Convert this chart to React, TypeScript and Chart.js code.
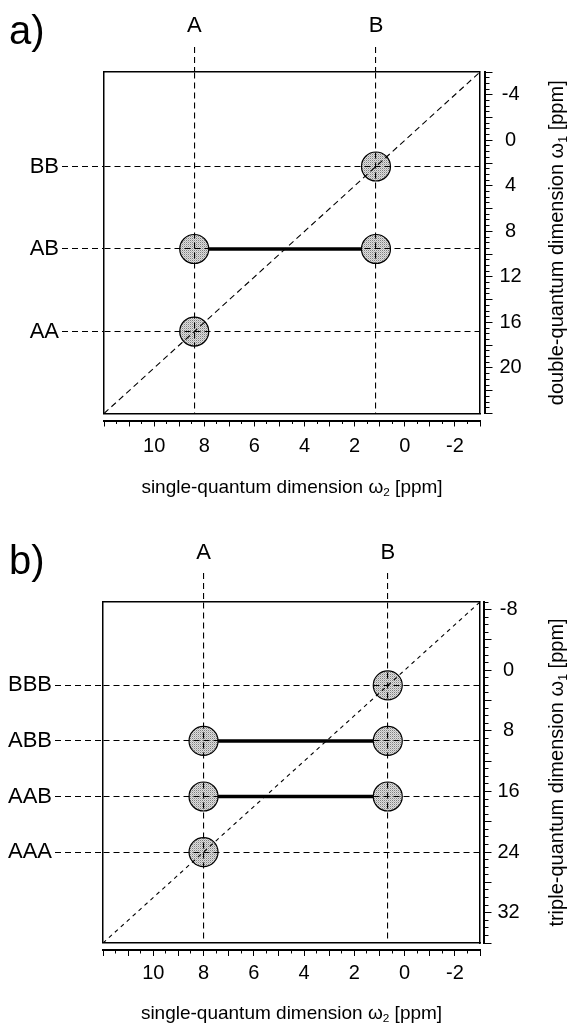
import React, { useEffect, useRef } from 'react';
import { Chart, registerables } from 'chart.js';

Chart.register(...registerables);

// ---------------- Panel a: double-quantum ----------------
const A_SQ_NAMES = ['A', 'B'];
const A_SQ_SHIFTS = [8.4, 1.15];
const A_MQ_NAMES = ['BB', 'AB', 'AA'];
const A_MQ_SHIFTS = [2.3, 9.55, 16.8];
const A_PEAKS_X = [1.15, 8.4, 1.15, 8.4];
const A_PEAKS_Y = [2.3, 9.55, 9.55, 16.8];
const A_LINK_X = [8.4, 1.15];
const A_LINK_Y = [9.55, 9.55];
const A_DIAG_X = [12, -3];
const A_DIAG_Y = [24, -6];
const A_X_TICK_LABELS = [10, 8, 6, 4, 2, 0, -2];
const A_Y_TICK_LABELS = [-4, 0, 4, 8, 12, 16, 20];

// ---------------- Panel b: triple-quantum ----------------
const B_SQ_NAMES = ['A', 'B'];
const B_SQ_SHIFTS = [8.0, 0.67];
const B_MQ_NAMES = ['BBB', 'ABB', 'AAB', 'AAA'];
const B_MQ_SHIFTS = [2.0, 9.33, 16.67, 24.0];
const B_PEAKS_X = [0.67, 8.0, 0.67, 8.0, 0.67, 8.0];
const B_PEAKS_Y = [2.0, 9.33, 9.33, 16.67, 16.67, 24.0];
const B_LINK1_X = [8.0, 0.67];
const B_LINK1_Y = [9.33, 9.33];
const B_LINK2_X = [8.0, 0.67];
const B_LINK2_Y = [16.67, 16.67];
const B_DIAG_X = [12, -3];
const B_DIAG_Y = [36, -9];
const B_X_TICK_LABELS = [10, 8, 6, 4, 2, 0, -2];
const B_Y_TICK_LABELS = [-8, 0, 8, 16, 24, 32];

const FAM = '"Liberation Sans", Arial, Helvetica, sans-serif';

type Part = { text: string; sub?: boolean };

const PANEL_A = {
  letter: 'a)',
  sqNames: A_SQ_NAMES, sqShifts: A_SQ_SHIFTS,
  mqNames: A_MQ_NAMES, mqShifts: A_MQ_SHIFTS,
  peaksX: A_PEAKS_X, peaksY: A_PEAKS_Y,
  links: [[A_LINK_X, A_LINK_Y]],
  diagX: A_DIAG_X, diagY: A_DIAG_Y,
  xLabels: A_X_TICK_LABELS, yLabels: A_Y_TICK_LABELS,
  xMin: -3, xMax: 12, yMin: -6, yMax: 24,
  xMinor: 0.5, xMajor: 1, yMinor: 0.5, yMajor: 2,
  xTitle: [{ text: 'single-quantum dimension ω' }, { text: '2', sub: true }, { text: ' [ppm]' }] as Part[],
  yTitle: [{ text: 'double-quantum dimension ω' }, { text: '1', sub: true }, { text: ' [ppm]' }] as Part[],
  g: {
    h: 512, left: 104, top: 72, rightSp: 5, rightAxis: 86, botSp: 7, botAxis: 91.5,
    topTick: 25, topPad: 8, leftTick: 42, leftPad: 3, botPad: 10, rightPad: 10,
    letterY: 44, xTitleY: 486, yTitleX: 556, diagDash: [6, 4],
  },
};

const PANEL_B = {
  letter: 'b)',
  sqNames: B_SQ_NAMES, sqShifts: B_SQ_SHIFTS,
  mqNames: B_MQ_NAMES, mqShifts: B_MQ_SHIFTS,
  peaksX: B_PEAKS_X, peaksY: B_PEAKS_Y,
  links: [[B_LINK1_X, B_LINK1_Y], [B_LINK2_X, B_LINK2_Y]],
  diagX: B_DIAG_X, diagY: B_DIAG_Y,
  xLabels: B_X_TICK_LABELS, yLabels: B_Y_TICK_LABELS,
  xMin: -3, xMax: 12, yMin: -9, yMax: 36,
  xMinor: 0.5, xMajor: 1, yMinor: 1, yMajor: 4,
  xTitle: [{ text: 'single-quantum dimension ω' }, { text: '2', sub: true }, { text: ' [ppm]' }] as Part[],
  yTitle: [{ text: 'triple-quantum dimension ω' }, { text: '1', sub: true }, { text: ' [ppm]' }] as Part[],
  g: {
    h: 513, left: 103, top: 90, rightSp: 4, rightAxis: 87, botSp: 7, botAxis: 75,
    topTick: 29, topPad: 7, leftTick: 48, leftPad: 3, botPad: 8, rightPad: 9,
    letterY: 62, xTitleY: 500, yTitleX: 556, diagDash: [4, 4],
  },
};

function drawRich(ctx: CanvasRenderingContext2D, parts: Part[], size: number, cx: number, cy: number, rotate: boolean) {
  ctx.save();
  ctx.translate(cx, cy);
  if (rotate) ctx.rotate(-Math.PI / 2);
  const subSize = size * 0.62;
  const widths = parts.map((p) => {
    ctx.font = `${p.sub ? subSize : size}px ${FAM}`;
    return ctx.measureText(p.text).width;
  });
  const total = widths.reduce((a, b) => a + b, 0);
  let x = -total / 2;
  const base = size * 0.35;
  ctx.fillStyle = '#000';
  ctx.textBaseline = 'alphabetic';
  ctx.textAlign = 'left';
  parts.forEach((p, i) => {
    ctx.font = `${p.sub ? subSize : size}px ${FAM}`;
    ctx.fillText(p.text, x, p.sub ? base + size * 0.2 : base);
    x += widths[i];
  });
  ctx.restore();
}

const align = (px: number) => Math.round(px - 0.5) + 0.5;

function buildConfig(def: any, canvas: HTMLCanvasElement): any {
  const g = def.g;
  const pc = document.createElement('canvas');
  pc.width = 2;
  pc.height = 2;
  const pctx = pc.getContext('2d')!;
  pctx.fillStyle = '#dedede';
  pctx.fillRect(0, 0, 2, 2);
  pctx.fillStyle = '#808080';
  pctx.fillRect(0, 0, 1, 1);
  pctx.fillStyle = '#b8b8b8';
  pctx.fillRect(1, 1, 1, 1);
  const pattern = canvas.getContext('2d')!.createPattern(pc, 'repeat');

  const isLabel = (arr: number[], v: number) => arr.some((l) => Math.abs(l - v) < 1e-6);

  const decor = {
    id: 'decor',
    afterDraw(chart: any) {
      const ctx: CanvasRenderingContext2D = chart.ctx;
      const xs = chart.scales.x;
      const ys = chart.scales.y;
      ctx.save();
      ctx.strokeStyle = '#000';
      ctx.lineWidth = 1;
      ctx.beginPath();
      for (let v = Math.ceil(def.xMin / def.xMajor) * def.xMajor; v <= def.xMax + 1e-9; v += def.xMajor) {
        const px = align(xs.getPixelForValue(v));
        ctx.moveTo(px, xs.top);
        ctx.lineTo(px, xs.top + 6);
      }
      for (let v = Math.ceil(def.yMin / def.yMajor) * def.yMajor; v <= def.yMax + 1e-9; v += def.yMajor) {
        const py = align(ys.getPixelForValue(v));
        ctx.moveTo(ys.left, py);
        ctx.lineTo(ys.left + 7.5, py);
      }
      ctx.stroke();
      ctx.restore();

      ctx.save();
      ctx.fillStyle = '#000';
      ctx.font = `40px ${FAM}`;
      ctx.textBaseline = 'alphabetic';
      ctx.textAlign = 'left';
      ctx.fillText(def.letter, 9, g.letterY);
      ctx.restore();

      const ca = chart.chartArea;
      drawRich(ctx, def.xTitle, 19, (ca.left + ca.right) / 2, g.xTitleY, false);
      drawRich(ctx, def.yTitle, 20, g.yTitleX, (ca.top + ca.bottom) / 2, true);
    },
  };

  const tickFont = { family: FAM, size: 20 };
  const nameFont = { family: FAM, size: 22 };

  const datasets: any[] = [
    {
      data: def.diagX.map((x: number, i: number) => ({ x, y: def.diagY[i] })),
      showLine: true,
      borderColor: '#000',
      borderWidth: 1.1,
      borderDash: g.diagDash,
      pointRadius: 0,
      xAxisID: 'x',
      yAxisID: 'y',
    },
    {
      data: def.peaksX.map((x: number, i: number) => ({ x, y: def.peaksY[i] })),
      showLine: false,
      pointRadius: 14.5,
      pointHoverRadius: 14.5,
      pointBackgroundColor: pattern,
      pointBorderColor: '#000',
      pointBorderWidth: 1.2,
      xAxisID: 'x',
      yAxisID: 'y',
    },
    ...def.links.map((l: number[][]) => ({
      data: l[0].map((x: number, i: number) => ({ x, y: l[1][i] })),
      showLine: true,
      borderColor: '#000',
      borderWidth: 3.5,
      pointRadius: 0,
      xAxisID: 'x',
      yAxisID: 'y',
    })),
  ];

  return {
    type: 'scatter',
    data: { datasets },
    plugins: [decor],
    options: {
      responsive: false,
      animation: false,
      events: [],
      layout: { padding: 0, autoPadding: false },
      plugins: { legend: { display: false }, tooltip: { enabled: false } },
      scales: {
        x: {
          type: 'linear', position: 'bottom', weight: 1,
          min: def.xMin, max: def.xMax, reverse: true,
          afterFit: (s: any) => { s.height = g.botAxis; },
          ticks: {
            stepSize: def.xMinor, autoSkip: false, maxRotation: 0, minRotation: 0,
            padding: g.botPad, font: tickFont, color: '#000',
            callback: (v: number) => (isLabel(def.xLabels, v) ? String(v) : ''),
          },
          grid: { drawOnChartArea: false, tickLength: 3.5, color: '#000', lineWidth: 1 },
          border: { display: true, color: '#000', width: 2 },
        },
        xSp: {
          type: 'linear', axis: 'x', position: 'bottom', weight: 0,
          min: def.xMin, max: def.xMax, reverse: true,
          afterFit: (s: any) => { s.height = g.botSp; },
          ticks: { display: false },
          grid: { display: false },
          border: { display: true, color: '#000', width: 1.5 },
        },
        xTop: {
          type: 'linear', axis: 'x', position: 'top',
          min: def.xMin, max: def.xMax, reverse: true,
          afterFit: (s: any) => { s.height = g.top; },
          afterBuildTicks: (s: any) => { s.ticks = def.sqShifts.map((v: number) => ({ value: v })); },
          ticks: {
            autoSkip: false, maxRotation: 0, minRotation: 0, padding: g.topPad,
            font: nameFont, color: '#000',
            callback: (_v: number, i: number) => def.sqNames[i],
          },
          grid: {
            z: 1, drawOnChartArea: true, drawTicks: true, tickLength: g.topTick,
            color: '#000', lineWidth: 1.1, tickColor: '#000', tickWidth: 1.1, tickBorderDash: [6, 4],
          },
          border: { z: 2, display: true, color: '#000', width: 1.5, dash: [6, 4] },
        },
        y: {
          type: 'linear', position: 'right', weight: 1,
          min: def.yMin, max: def.yMax, reverse: true,
          afterFit: (s: any) => { s.width = g.rightAxis; },
          ticks: {
            stepSize: def.yMinor, autoSkip: false, padding: g.rightPad, crossAlign: 'center',
            font: tickFont, color: '#000',
            callback: (v: number) => (isLabel(def.yLabels, v) ? String(v) : ''),
          },
          grid: { drawOnChartArea: false, tickLength: 4.5, color: '#000', lineWidth: 1 },
          border: { display: true, color: '#000', width: 2 },
        },
        ySp: {
          type: 'linear', axis: 'y', position: 'right', weight: 0,
          min: def.yMin, max: def.yMax, reverse: true,
          afterFit: (s: any) => { s.width = g.rightSp; },
          ticks: { display: false },
          grid: { display: false },
          border: { display: true, color: '#000', width: 1.5 },
        },
        yLeft: {
          type: 'linear', axis: 'y', position: 'left',
          min: def.yMin, max: def.yMax, reverse: true,
          afterFit: (s: any) => { s.width = g.left; },
          afterBuildTicks: (s: any) => { s.ticks = def.mqShifts.map((v: number) => ({ value: v })); },
          ticks: {
            autoSkip: false, padding: g.leftPad, font: nameFont, color: '#000',
            callback: (_v: number, i: number) => def.mqNames[i],
          },
          grid: {
            z: 1, drawOnChartArea: true, drawTicks: true, tickLength: g.leftTick,
            color: '#000', lineWidth: 1.1, tickColor: '#000', tickWidth: 1.1, tickBorderDash: [6, 4],
          },
          border: { z: 2, display: true, color: '#000', width: 1.5, dash: [6, 4] },
        },
      },
    },
  };
}

function Panel({ def }: { def: any }) {
  const ref = useRef<HTMLCanvasElement>(null);
  useEffect(() => {
    const canvas = ref.current!;
    const chart = new Chart(canvas, buildConfig(def, canvas));
    return () => chart.destroy();
  }, [def]);
  return (
    <canvas
      ref={ref}
      width={571}
      height={def.g.h}
      style={{ display: 'block', width: 571, height: def.g.h }}
    />
  );
}

export default function App() {
  return (
    <div style={{ position: 'absolute', left: 0, top: 0, width: 571, height: 1025, background: '#fff' }}>
      <Panel def={PANEL_A} />
      <Panel def={PANEL_B} />
    </div>
  );
}
